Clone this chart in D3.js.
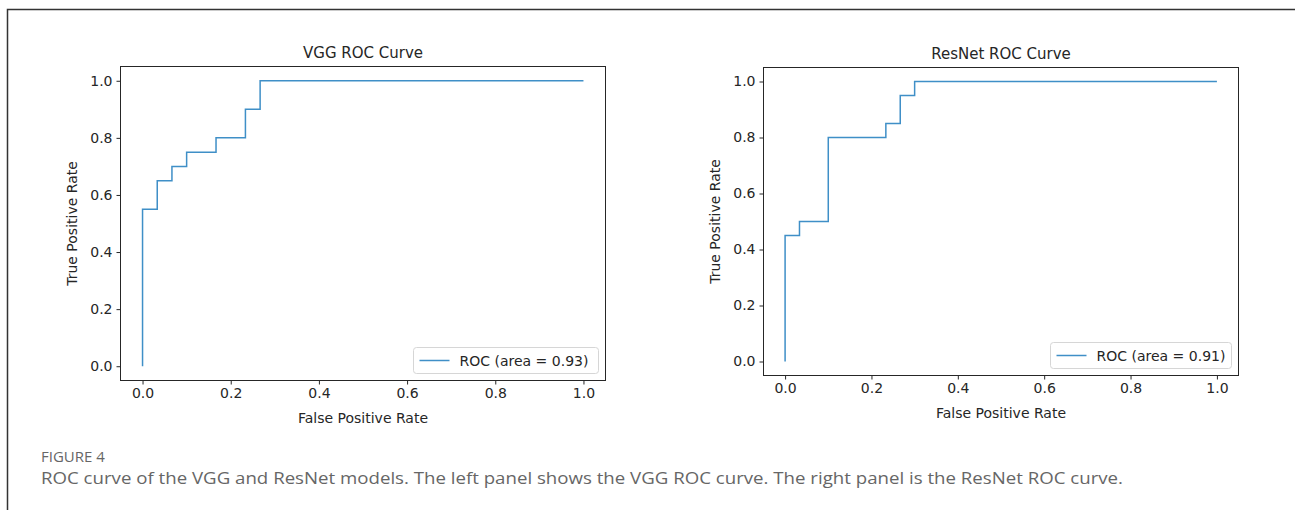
<!DOCTYPE html>
<html>
<head>
<meta charset="utf-8">
<script src="https://cdn.jsdelivr.net/npm/d3@7"></script>
<style>
  body { margin: 0; background: #fff; }
  svg { display: block; }
</style>
</head>
<body>
<svg id="chart" width="1295" height="510"></svg>
<script>
// ROC points (30 negatives, 20 positives)
var vggFpr = [0, 0, 1/30, 1/30, 2/30, 2/30, 3/30, 3/30, 5/30, 5/30, 7/30, 7/30, 8/30, 8/30, 1];
var vggTpr = [0, 0.55, 0.55, 0.65, 0.65, 0.70, 0.70, 0.75, 0.75, 0.80, 0.80, 0.90, 0.90, 1, 1];
var resFpr = [0, 0, 1/30, 1/30, 3/30, 3/30, 7/30, 7/30, 8/30, 8/30, 9/30, 9/30, 1];
var resTpr = [0, 0.45, 0.45, 0.50, 0.50, 0.80, 0.80, 0.85, 0.85, 0.95, 0.95, 1, 1];
var tickVals = [0, 0.2, 0.4, 0.6, 0.8, 1.0];

var panels = [
  {title: 'VGG ROC Curve', fpr: vggFpr, tpr: vggTpr, legend: 'ROC (area = 0.93)',
   x0: 120.5, x1: 605.5, y0: 66.5, y1: 380.5, legW: 185},
  {title: 'ResNet ROC Curve', fpr: resFpr, tpr: resTpr, legend: 'ROC (area = 0.91)',
   x0: 763.5, x1: 1238.5, y0: 67.5, y1: 375.5, legW: 181}
];

var font = 'DejaVu Sans, sans-serif';
var ink = '#262626';
var svg = d3.select('#chart');

// figure frame
svg.append('path').attr('d', 'M7.5,510 V9.5 H1295')
  .attr('fill', 'none').attr('stroke', '#333').attr('stroke-width', 1.5);

panels.forEach(function(p) {
  var x = d3.scaleLinear().domain([-0.05, 1.05]).range([p.x0, p.x1]);
  var y = d3.scaleLinear().domain([-0.05, 1.05]).range([p.y1, p.y0]);
  var g = svg.append('g');

  var xAxis = g.append('g').attr('transform', 'translate(0,' + p.y1 + ')')
    .call(d3.axisBottom(x).tickValues(tickVals).tickFormat(d3.format('.1f')).tickSizeOuter(0).tickSize(4).tickPadding(4));
  var yAxis = g.append('g').attr('transform', 'translate(' + p.x0 + ',0)')
    .call(d3.axisLeft(y).tickValues(tickVals).tickFormat(d3.format('.1f')).tickSizeOuter(0).tickSize(4).tickPadding(4));
  [xAxis, yAxis].forEach(function(a) {
    a.select('.domain').remove();
    a.selectAll('.tick line').attr('stroke', ink);
    a.selectAll('.tick text').style('font-family', font).style('font-size', '14px').attr('fill', ink);
  });

  g.append('rect').attr('x', p.x0).attr('y', p.y0)
    .attr('width', p.x1 - p.x0).attr('height', p.y1 - p.y0)
    .attr('fill', 'none').attr('stroke', ink).attr('stroke-width', 1);

  var pts = p.fpr.map(function(f, i) { return [f, p.tpr[i]]; });
  g.append('path').datum(pts)
    .attr('d', d3.line().x(function(d) { return x(d[0]); }).y(function(d) { return y(d[1]); }))
    .attr('fill', 'none').attr('stroke', '#3f8fc7').attr('stroke-width', 1.5);

  g.append('text').attr('x', (p.x0 + p.x1) / 2).attr('y', p.y0 - 9)
    .attr('text-anchor', 'middle').attr('font-family', font)
    .attr('font-size', 15).attr('fill', ink).text(p.title);

  g.append('text').attr('x', (p.x0 + p.x1) / 2).attr('y', p.y1 + 42)
    .attr('text-anchor', 'middle').attr('font-family', font)
    .attr('font-size', 14).attr('fill', ink).text('False Positive Rate');

  g.append('text').attr('transform', 'translate(' + (p.x0 - 44) + ',' + ((p.y0 + p.y1) / 2) + ') rotate(-90)')
    .attr('text-anchor', 'middle').attr('font-family', font)
    .attr('font-size', 14).attr('fill', ink).text('True Positive Rate');

  // legend
  var lx = p.x1 - 7 - p.legW, ly = p.y1 - 33;
  var leg = g.append('g').attr('transform', 'translate(' + lx + ',' + ly + ')');
  leg.append('rect').attr('width', p.legW).attr('height', 26).attr('rx', 3)
    .attr('fill', '#fff').attr('stroke', '#d6d6d6');
  leg.append('line').attr('x1', 6).attr('x2', 36).attr('y1', 13).attr('y2', 13)
    .attr('stroke', '#3f8fc7').attr('stroke-width', 1.5);
  leg.append('text').attr('x', 46).attr('y', 18)
    .attr('font-family', font).attr('font-size', 14)
    .attr('fill', ink).text(p.legend);
});

// caption
svg.append('text').attr('x', 41).attr('y', 462)
  .attr('font-family', 'Open Sans, sans-serif').attr('font-size', 15).attr('fill', '#666')
  .text('FIGURE 4');
svg.append('text').attr('x', 41).attr('y', 484)
  .attr('font-family', 'Open Sans, sans-serif').attr('font-size', 17).attr('fill', '#666')
  .attr('textLength', 1082).attr('lengthAdjust', 'spacingAndGlyphs')
  .text('ROC curve of the VGG and ResNet models. The left panel shows the VGG ROC curve. The right panel is the ResNet ROC curve.');
</script>
</body>
</html>
